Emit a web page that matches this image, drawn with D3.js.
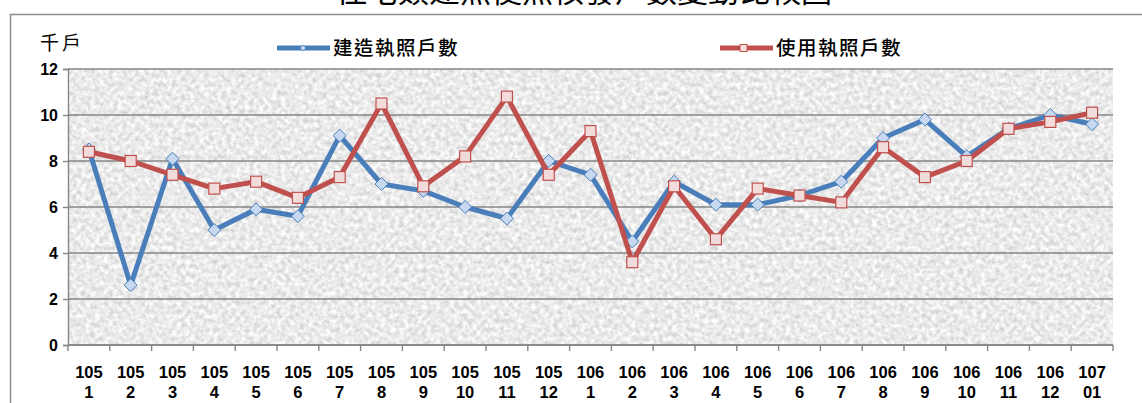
<!DOCTYPE html>
<html>
<head>
<meta charset="utf-8">
<script src="https://cdn.jsdelivr.net/npm/d3@7"></script>
<style>
  body { margin: 0; background: #fff; }
  svg { display: block; }
</style>
</head>
<body>
<div id="chart"></div>
<script>
// data (thousand households)
const years = ['105', '105', '105', '105', '105', '105', '105', '105', '105', '105', '105', '105',
               '106', '106', '106', '106', '106', '106', '106', '106', '106', '106', '106', '106', '107'];
const months = ['1', '2', '3', '4', '5', '6', '7', '8', '9', '10', '11', '12',
                '1', '2', '3', '4', '5', '6', '7', '8', '9', '10', '11', '12', '01'];
const buildPermits = [8.5, 2.6, 8.1, 5.0, 5.9, 5.6, 9.1, 7.0, 6.7, 6.0, 5.5, 8.0,
                      7.4, 4.5, 7.1, 6.1, 6.1, 6.5, 7.1, 9.0, 9.8, 8.2, 9.4, 10.0, 9.6];
const usePermits = [8.4, 8.0, 7.4, 6.8, 7.1, 6.4, 7.3, 10.5, 6.9, 8.2, 10.8, 7.4,
                    9.3, 3.6, 6.9, 4.6, 6.8, 6.5, 6.2, 8.6, 7.3, 8.0, 9.4, 9.7, 10.1];
const yTicks = [0, 2, 4, 6, 8, 10, 12];
const seriesNames = ['建造執照戶數', '使用執照戶數'];

const W = 1142, H = 403;
const margin = { top: 69, right: 29, bottom: 58, left: 68 },
    width = W - margin.left - margin.right,
    height = H - margin.top - margin.bottom;

const svg = d3.select('#chart').append('svg')
    .attr('width', W)
    .attr('height', H);

// light grey stone texture like the excel fill
const defs = svg.append('defs');
const filt = defs.append('filter')
    .attr('id', 'stone')
    .attr('x', 0).attr('y', 0).attr('width', 1).attr('height', 1)
    .attr('color-interpolation-filters', 'sRGB');
filt.append('feTurbulence')
    .attr('type', 'fractalNoise')
    .attr('baseFrequency', 0.22)
    .attr('numOctaves', 3)
    .attr('seed', 7);
filt.append('feColorMatrix')
    .attr('type', 'matrix')
    .attr('values', '0.3 0 0 0 0.77  0.3 0 0 0 0.77  0.3 0 0 0 0.77  0 0 0 0 1');

// outer frame
svg.append('rect')
    .attr('x', 10.5).attr('y', 14.5)
    .attr('width', 1300).attr('height', 600)
    .attr('fill', 'none')
    .attr('stroke', '#8c8c8c')
    .attr('stroke-width', 1.5);

// title, cut at the top like the source
svg.append('text')
    .attr('x', 584)
    .attr('y', 2)
    .attr('text-anchor', 'middle')
    .style('font-family', '"Noto Sans CJK TC", sans-serif')
    .style('font-size', '31px')
    .style('fill', '#000')
    .text('住宅類建照使照核發戶數變動比較圖');

const g = svg.append('g')
    .attr('transform', 'translate(' + margin.left + ',' + margin.top + ')');

const xScale = d3.scaleBand()
    .domain(d3.range(years.length))
    .range([0, width]);

const yScale = d3.scaleLinear()
    .domain([0, 12])
    .range([height, 0]);

g.append('rect')
    .attr('width', width)
    .attr('height', height)
    .attr('filter', 'url(#stone)');

// gridlines
g.append('g')
    .selectAll('line')
    .data(yTicks)
    .enter().append('line')
    .attr('x1', 0)
    .attr('x2', width)
    .attr('y1', d => yScale(d))
    .attr('y2', d => yScale(d))
    .attr('stroke', '#868686')
    .attr('stroke-width', 1.4);

// y axis
const yAxis = g.append('g')
    .call(d3.axisLeft(yScale).tickValues(yTicks).tickSize(5).tickPadding(5).tickFormat(d3.format('d')));
yAxis.select('.domain').attr('stroke', '#868686').attr('stroke-width', 1.4);
yAxis.selectAll('.tick line').attr('stroke', '#868686').attr('stroke-width', 1.4);
yAxis.selectAll('.tick text')
    .style('font-family', '"Liberation Sans", Arial, sans-serif')
    .style('font-size', '16px')
    .style('font-weight', 'bold')
    .attr('fill', '#000');

// x axis: ticks on band edges
const xg = g.append('g').attr('transform', 'translate(0,' + height + ')');
xg.append('line')
    .attr('x1', 0).attr('x2', width)
    .attr('stroke', '#868686').attr('stroke-width', 1.4);
xg.selectAll('line.edge')
    .data(d3.range(years.length + 1))
    .enter().append('line')
    .attr('class', 'edge')
    .attr('x1', d => d * xScale.step())
    .attr('x2', d => d * xScale.step())
    .attr('y1', 0).attr('y2', 6)
    .attr('stroke', '#868686').attr('stroke-width', 1.4);

const xLab = xg.selectAll('text.xl')
    .data(d3.range(years.length))
    .enter().append('text')
    .attr('class', 'xl')
    .attr('text-anchor', 'middle')
    .style('font-family', '"Liberation Sans", Arial, sans-serif')
    .style('font-size', '16.5px')
    .style('font-weight', 'bold')
    .attr('fill', '#000');
xLab.append('tspan')
    .attr('x', i => xScale(i) + xScale.bandwidth() / 2)
    .attr('y', 33)
    .text(i => years[i]);
xLab.append('tspan')
    .attr('x', i => xScale(i) + xScale.bandwidth() / 2)
    .attr('y', 53)
    .text(i => months[i]);

// unit label
svg.append('text')
    .attr('x', 40)
    .attr('y', 50)
    .style('font-family', '"Noto Sans CJK TC", sans-serif')
    .style('font-size', '19px')
    .style('letter-spacing', '3px')
    .attr('fill', '#000')
    .text('千戶');

const cx = i => xScale(i) + xScale.bandwidth() / 2;
const line = d3.line()
    .x((d, i) => cx(i))
    .y(d => yScale(d));

// build permits, blue with diamonds
g.append('path')
    .attr('fill', 'none')
    .attr('stroke', '#4a7ebb')
    .attr('stroke-width', 5)
    .attr('stroke-linejoin', 'round')
    .attr('d', line(buildPermits));
g.selectAll('path.dia')
    .data(buildPermits)
    .enter().append('path')
    .attr('class', 'dia')
    .attr('transform', (d, i) => 'translate(' + cx(i) + ',' + yScale(d) + ')')
    .attr('d', 'M0,-6.5L6.5,0L0,6.5L-6.5,0Z')
    .attr('fill', '#c6d9f1')
    .attr('stroke', '#4a7ebb')
    .attr('stroke-width', 1);

// use permits, red with squares
g.append('path')
    .attr('fill', 'none')
    .attr('stroke', '#c0504d')
    .attr('stroke-width', 5)
    .attr('stroke-linejoin', 'round')
    .attr('d', line(usePermits));
g.selectAll('rect.sq')
    .data(usePermits)
    .enter().append('rect')
    .attr('class', 'sq')
    .attr('x', (d, i) => cx(i) - 5.5)
    .attr('y', d => yScale(d) - 5.5)
    .attr('width', 11)
    .attr('height', 11)
    .attr('fill', '#f2dcdb')
    .attr('stroke', '#c0504d')
    .attr('stroke-width', 1.2);

// legend
const legendPos = [277, 720];
const legendColor = ['#4a7ebb', '#c0504d'];
const legend = svg.selectAll('g.legend')
    .data([0, 1])
    .enter().append('g')
    .attr('class', 'legend')
    .attr('transform', d => 'translate(' + legendPos[d] + ',48)');
legend.append('line')
    .attr('x1', 0).attr('x2', 53)
    .attr('stroke', d => legendColor[d])
    .attr('stroke-width', 5);
legend.filter(d => d === 0).append('path')
    .attr('transform', 'translate(26,0)')
    .attr('d', 'M0,-3L3,0L0,3L-3,0Z')
    .attr('fill', '#c6d9f1')
    .attr('stroke', '#4a7ebb')
    .attr('stroke-width', 0.8);
legend.filter(d => d === 1).append('rect')
    .attr('x', 20).attr('y', -3.5)
    .attr('width', 7).attr('height', 7)
    .attr('fill', '#f2dcdb')
    .attr('stroke', '#c0504d')
    .attr('stroke-width', 1);
legend.append('text')
    .attr('x', 56)
    .attr('y', 7)
    .style('font-family', '"Noto Sans CJK TC", sans-serif')
    .style('font-size', '19.5px')
    .style('font-weight', '500')
    .style('letter-spacing', '1.5px')
    .attr('fill', '#000')
    .text(d => seriesNames[d]);
</script>
</body>
</html>
